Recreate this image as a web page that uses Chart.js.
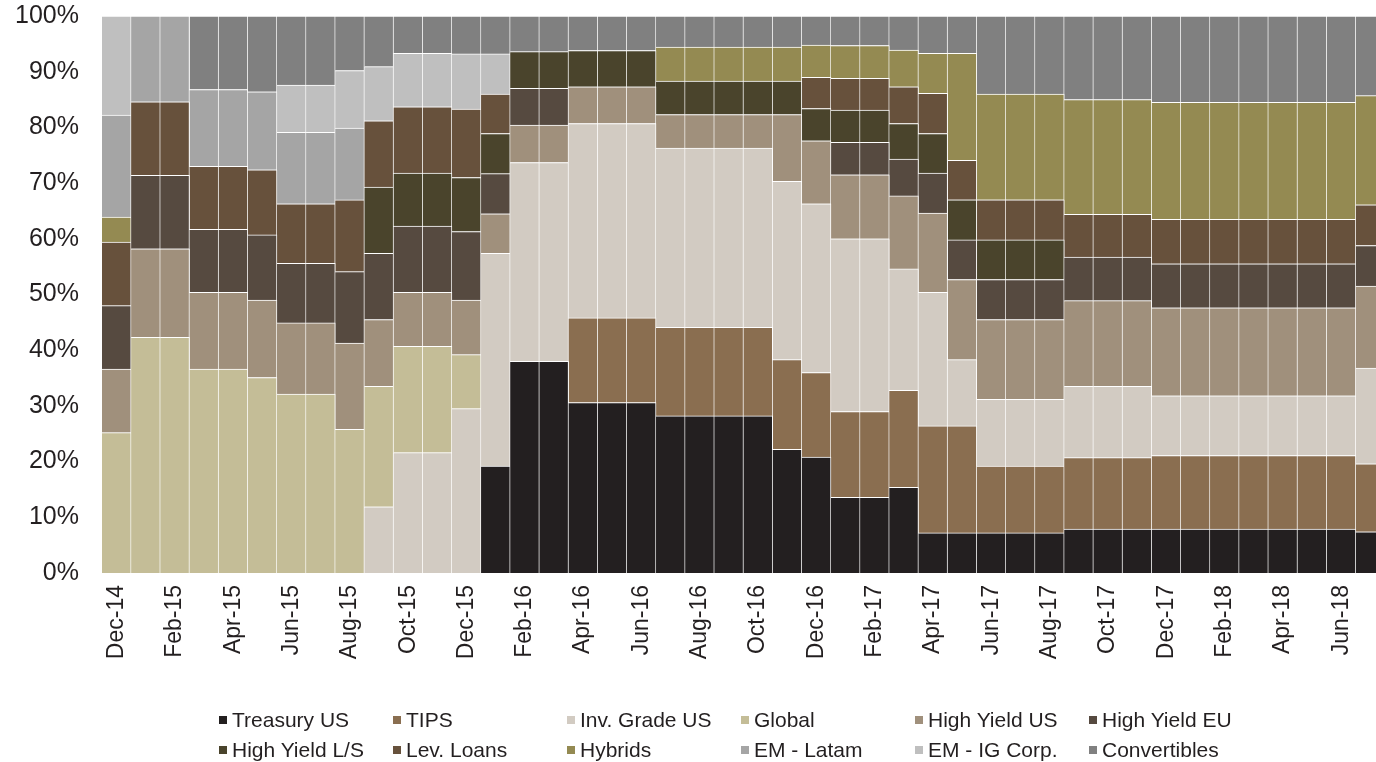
<!DOCTYPE html>
<html>
<head>
<meta charset="utf-8">
<title>Fixed income allocation</title>
<script src="https://cdn.jsdelivr.net/npm/chart.js@4/dist/chart.umd.min.js"></script>
<style>
  html, body { margin: 0; padding: 0; background: #ffffff; }
  #wrap { position: relative; width: 1376px; height: 762px; overflow: hidden; }
  #c { position: absolute; left: 0; top: 0; }
  #legend {
    position: absolute; left: 0; top: 0; width: 1376px; height: 762px;
    pointer-events: none;
    font-family: "Liberation Sans", Arial, sans-serif; font-size: 21px; color: #231f20;
  }
  .item { position: absolute; white-space: nowrap; height: 24px; line-height: 24px; }
  .box { display: inline-block; width: 8px; height: 8px; margin-right: 5px; vertical-align: middle; position: relative; top: -1px; }
</style>
</head>
<body>
<div id="wrap">
  <canvas id="c" width="1385" height="762"></canvas>
  <div id="legend"></div>
</div>
<script>
// Month-end dates
const months = [
  'Dec-14','Jan-15','Feb-15','Mar-15','Apr-15','May-15','Jun-15','Jul-15','Aug-15','Sep-15','Oct-15','Nov-15',
  'Dec-15','Jan-16','Feb-16','Mar-16','Apr-16','May-16','Jun-16','Jul-16','Aug-16','Sep-16','Oct-16','Nov-16',
  'Dec-16','Jan-17','Feb-17','Mar-17','Apr-17','May-17','Jun-17','Jul-17','Aug-17','Sep-17','Oct-17','Nov-17',
  'Dec-17','Jan-18','Feb-18','Mar-18','Apr-18','May-18','Jun-18','Jul-18'
];

// Portfolio weights (%) per asset class
const treasuryUS = [0,0,0,0,0,0,0,0,0,0,0,0,0,19.2,38.0,38.0,30.6,30.6,30.6,28.2,28.2,28.2,28.2,22.2,20.8,13.6,13.6,15.4,7.2,7.2,7.2,7.2,7.2,7.9,7.9,7.9,7.9,7.9,7.9,7.9,7.9,7.9,7.9,7.4];
const tips = [0,0,0,0,0,0,0,0,0,0,0,0,0,0,0,0,15.2,15.2,15.2,15.9,15.9,15.9,15.9,16.1,15.2,15.4,15.4,17.4,19.2,19.2,12.0,12.0,12.0,12.8,12.8,12.8,13.2,13.2,13.2,13.2,13.2,13.2,13.2,12.2];
const invGradeUS = [0,0,0,0,0,0,0,0,0,11.9,21.6,21.6,29.5,38.2,35.7,35.7,34.9,34.9,34.9,32.2,32.2,32.2,32.2,32.0,30.3,31.0,31.0,21.8,24.0,11.9,12.0,12.0,12.0,12.8,12.8,12.8,10.7,10.7,10.7,10.7,10.7,10.7,10.7,17.2];
const globalBonds = [25.2,42.3,42.3,36.6,36.6,35.1,32.1,32.1,25.8,21.6,19.1,19.1,9.7,0,0,0,0,0,0,0,0,0,0,0,0,0,0,0,0,0,0,0,0,0,0,0,0,0,0,0,0,0,0,0];
const highYieldUS = [11.4,15.9,15.9,13.8,13.8,13.9,12.8,12.8,15.5,12.0,9.7,9.7,9.8,7.1,6.7,6.7,6.6,6.6,6.6,6.0,6.0,6.0,6.0,12.0,11.3,11.5,11.5,13.1,14.2,14.4,14.3,14.3,14.3,15.4,15.4,15.4,15.8,15.8,15.8,15.8,15.8,15.8,15.8,14.7];
const highYieldEU = [11.4,13.2,13.2,11.3,11.3,11.7,10.7,10.7,12.8,11.9,11.9,11.9,12.3,7.2,6.6,6.6,0,0,0,0,0,0,0,0,0,5.8,5.8,6.6,7.2,7.1,7.2,7.2,7.2,7.8,7.8,7.8,7.9,7.9,7.9,7.9,7.9,7.9,7.9,7.3];
const highYieldLS = [0,0,0,0,0,0,0,0,0,11.9,9.5,9.5,9.7,7.2,6.6,6.6,6.5,6.5,6.5,6.0,6.0,6.0,6.0,6.0,5.8,5.8,5.8,6.4,7.1,7.2,7.1,7.1,7.1,0,0,0,0,0,0,0,0,0,0,0];
const levLoans = [11.4,13.2,13.2,11.3,11.3,11.7,10.7,10.7,12.9,11.9,11.9,11.9,12.3,7.1,0,0,0,0,0,0,0,0,0,0,5.6,5.7,5.7,6.6,7.2,7.1,7.2,7.2,7.2,7.7,7.7,7.7,8.0,8.0,8.0,8.0,8.0,8.0,8.0,7.3];
const hybrids = [4.5,0,0,0,0,0,0,0,0,0,0,0,0,0,0,0,0,0,0,6.1,6.1,6.1,6.1,6.1,5.8,5.9,5.9,6.6,7.2,19.2,19.0,19.0,19.0,20.6,20.6,20.6,21.0,21.0,21.0,21.0,21.0,21.0,21.0,19.6];
const emLatam = [18.3,15.4,15.4,13.8,13.8,14.0,12.8,12.8,12.9,0,0,0,0,0,0,0,0,0,0,0,0,0,0,0,0,0,0,0,0,0,0,0,0,0,0,0,0,0,0,0,0,0,0,0];
const emIGCorp = [17.8,0,0,0,0,0,8.5,8.5,10.3,9.7,9.6,9.6,9.9,7.2,0,0,0,0,0,0,0,0,0,0,0,0,0,0,0,0,0,0,0,0,0,0,0,0,0,0,0,0,0,0];
const convertibles = [0,0,0,13.2,13.2,13.6,12.4,12.4,9.8,9.1,6.7,6.7,6.8,6.8,6.4,6.4,6.2,6.2,6.2,5.6,5.6,5.6,5.6,5.6,5.2,5.3,5.3,6.1,6.7,6.7,14.0,14.0,14.0,15.0,15.0,15.0,15.5,15.5,15.5,15.5,15.5,15.5,15.5,14.3];

const seriesNames = ['Treasury US','TIPS','Inv. Grade US','Global','High Yield US','High Yield EU',
                     'High Yield L/S','Lev. Loans','Hybrids','EM - Latam','EM - IG Corp.','Convertibles'];
const seriesData = [treasuryUS, tips, invGradeUS, globalBonds, highYieldUS, highYieldEU,
                    highYieldLS, levLoans, hybrids, emLatam, emIGCorp, convertibles];
const seriesColors = ['#231f20','#8a6e50','#d2cbc2','#c4bd97','#a0907c','#564a40',
                      '#4a442c','#67513c','#948a52','#a5a5a5','#bfbfbf','#808080'];

const FONT = '"Liberation Sans", Arial, sans-serif';
const TEXT = '#231f20';

const datasets = seriesNames.map((name, i) => ({
  label: name,
  data: seriesData[i],
  backgroundColor: seriesColors[i],
  borderColor: '#ffffff',
  borderWidth: { top: 1, right: 1, bottom: 0, left: 0 },
  borderSkipped: false,
  barPercentage: 1,
  categoryPercentage: 1
}));

new Chart(document.getElementById('c').getContext('2d'), {
  type: 'bar',
  data: { labels: months, datasets },
  options: {
    responsive: false,
    animation: false,
    devicePixelRatio: 1,
    layout: { padding: { top: 16, left: 0, right: 0, bottom: 0 } },
    plugins: { legend: { display: false }, tooltip: { enabled: false } },
    scales: {
      x: {
        stacked: true,
        grid: { display: false, drawTicks: true, tickLength: 12 },
        border: { display: false },
        ticks: {
          autoSkip: false, maxRotation: 90, minRotation: 90, padding: 0,
          color: TEXT, font: { family: FONT, size: 23 },
          callback: (v, i) => (i % 2 === 0 ? months[i] : '')
        },
        // fixed axis band; the bars run right up to the canvas edge
        afterFit: (s) => { s.height = 189; s.paddingLeft = 0; s.paddingRight = 0; }
      },
      y: {
        stacked: true, min: 0, max: 100,
        // hidden tick marks keep the labels 23px clear of the bars
        grid: { display: false, drawTicks: true, tickLength: 23 },
        border: { display: false },
        ticks: {
          stepSize: 10, padding: 0,
          color: TEXT, font: { family: FONT, size: 25 },
          callback: (v) => v + '%'
        },
        afterFit: (s) => { s.width = 102; }
      }
    }
  }
});

// Two-row legend in six columns
const legend = document.getElementById('legend');
seriesNames.forEach((name, i) => {
  const row = Math.floor(i / 6), col = i % 6;
  const el = document.createElement('div');
  el.className = 'item';
  el.style.left = (219 + col * 174) + 'px';
  el.style.top = (708 + row * 30) + 'px';
  const box = document.createElement('span');
  box.className = 'box';
  box.style.background = seriesColors[i];
  el.appendChild(box);
  el.appendChild(document.createTextNode(name));
  legend.appendChild(el);
});
</script>
</body>
</html>
